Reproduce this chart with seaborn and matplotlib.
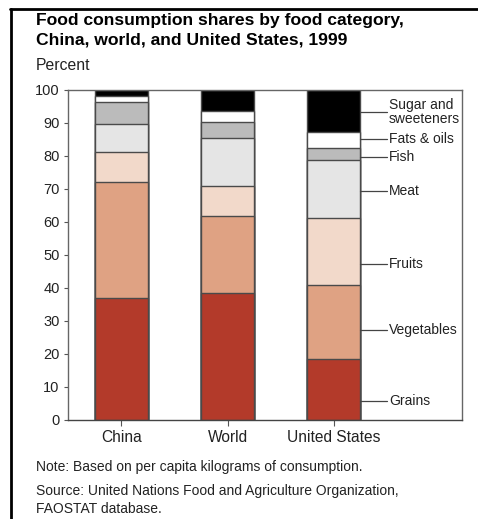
import numpy as np
import pandas as pd
import matplotlib
matplotlib.use("Agg")
import matplotlib.pyplot as plt
from matplotlib.lines import Line2D
import seaborn as sns

# ------------------------------------------------------------------
# Data (percent shares)
# ------------------------------------------------------------------
regions = ["China", "World", "United States"]
categories = ["Grains", "Vegetables", "Fruits", "Meat", "Fish",
              "Fats & oils", "Sugar and\nsweeteners"]
grains     = [37.0, 38.4, 18.6]
vegetables = [35.1, 23.3, 22.2]
fruits     = [9.2, 9.1, 20.3]
meat       = [8.5, 14.7, 17.7]
fish       = [6.7, 4.8, 3.5]
fats_oils  = [1.8, 3.2, 5.1]
sugar      = [1.7, 6.5, 12.6]

colors = ["#b33a2a", "#dfa283", "#f2d9ca", "#e5e5e5", "#bbbbbb",
          "#ffffff", "#000000"]
# where the right-hand labels sit (percent axis)
label_y = [5.8, 27.3, 47.3, 69.4, 79.7, 85.2, 93.3]

series = [grains, vegetables, fruits, meat, fish, fats_oils, sugar]
df = pd.DataFrame(dict(zip(categories, series)), index=regions)
cum = df.cumsum(axis=1)

sns.set_style("white")
plt.rcParams["font.family"] = ["Liberation Sans", "DejaVu Sans"]

fig = plt.figure(figsize=(4.78, 5.19), dpi=100)
ax = fig.add_axes([0.1423, 0.1908, 0.8242, 0.6358])

# stacked bars: draw cumulative totals from the top category down
for cat, col in zip(categories[::-1], colors[::-1]):
    d = pd.DataFrame({"region": regions, "value": cum[cat].values})
    sns.barplot(data=d, x="region", y="value", color=col, width=0.5,
                edgecolor="#4a4a4a", linewidth=1.0, saturation=1,
                ax=ax, order=regions)

ax.set_xlim(-0.502, 3.207)
ax.set_ylim(0, 100)
ax.set_yticks(np.arange(0, 101, 10))
ax.set_xlabel("")
ax.set_ylabel("")
ax.tick_params(axis="y", direction="out", length=3, width=0.8,
               color="#555555", labelsize=10.5, pad=3, left=True,
               labelcolor="#222222")
ax.tick_params(axis="x", direction="out", length=4, width=0.8,
               color="#555555", labelsize=11.2, pad=3, bottom=True,
               labelcolor="#222222")
for s in ax.spines.values():
    s.set_color("#666666")
    s.set_linewidth(1.0)
ax.spines["bottom"].set_color("#444444")

# leader lines and labels on the right
for cat, ly in zip(categories, label_y):
    ax.plot([2.25, 2.5], [ly, ly], color="#444444", lw=0.9, clip_on=False)
    ax.text(2.52, ly, cat, va="center", ha="left", fontsize=10,
            color="#222222", linespacing=0.95)

# titles and notes
fig.text(0.0753, 0.9518, "Food consumption shares by food category,",
         ha="left", va="baseline", fontsize=12.6, fontweight="bold",
         color="black")
fig.text(0.0753, 0.9133, "China, world, and United States, 1999",
         ha="left", va="baseline", fontsize=12.6, fontweight="bold",
         color="black")
fig.text(0.0753, 0.8651, "Percent", ha="left", va="baseline", fontsize=11.3,
         color="#222222")
fig.text(0.0753, 0.100, "Note: Based on per capita kilograms of consumption.",
         ha="left", va="center", fontsize=10, color="#222222")
fig.text(0.0753, 0.054, "Source: United Nations Food and Agriculture Organization,",
         ha="left", va="center", fontsize=10, color="#222222")
fig.text(0.0753, 0.019, "FAOSTAT database.", ha="left", va="center",
         fontsize=10, color="#222222")

# outer frame (top and left edges)
fig.add_artist(Line2D([0.021, 1.0], [0.9817, 0.9817], color="black",
                      lw=2.0, transform=fig.transFigure))
fig.add_artist(Line2D([0.023, 0.023], [0.0, 0.9817], color="black",
                      lw=2.0, transform=fig.transFigure))

fig.savefig("out.png", dpi=100)
